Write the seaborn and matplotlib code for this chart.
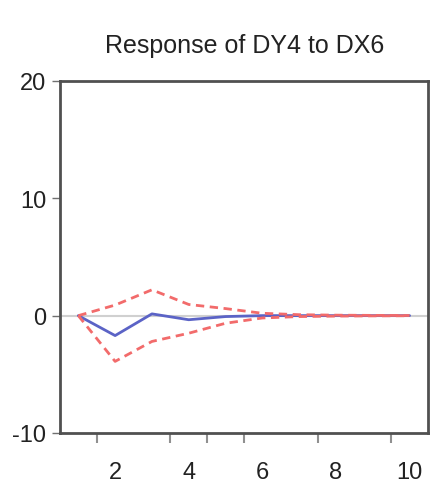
import matplotlib
matplotlib.use("Agg")
import matplotlib.pyplot as plt
from matplotlib import font_manager
import seaborn as sns
import pandas as pd

periods = [1, 2, 3, 4, 5, 6, 7, 8, 9, 10]
response = [0.0, -1.7, 0.15, -0.35, -0.08, 0.0, 0.0, 0.0, 0.0, 0.0]
upper_band = [0.0, 0.9, 2.2, 0.95, 0.6, 0.2, 0.08, 0.04, 0.02, 0.01]
lower_band = [0.0, -3.9, -2.2, -1.5, -0.65, -0.2, -0.08, -0.04, -0.02, -0.01]
y_ticks = [-10, 0, 10, 20]
x_labels = [2, 4, 6, 8, 10]
x_minor = [1.5, 3.5, 4.5, 5.5, 7.5, 9.5]
title = "Response of DY4 to DX6"

sns.set_theme(style="white")
installed = {f.name for f in font_manager.fontManager.ttflist}
family = "Liberation Sans Narrow" if "Liberation Sans Narrow" in installed else "Liberation Sans"
plt.rcParams["font.family"] = [family, "DejaVu Sans"]

df = pd.DataFrame({"period": periods, "response": response,
                   "upper": upper_band, "lower": lower_band})

fig = plt.figure(figsize=(4.31, 4.89), dpi=100)
ax = fig.add_axes([0.139, 0.1125, 0.854, 0.72])

ax.axhline(0, color="#d0d0d0", lw=1.5, zorder=1)
sns.lineplot(data=df, x="period", y="upper", ax=ax, color="#f26b6b",
             lw=2, dashes=False, zorder=3).lines[-1].set_dashes([3, 2])
sns.lineplot(data=df, x="period", y="lower", ax=ax, color="#f26b6b",
             lw=2, zorder=3).lines[-1].set_dashes([3, 2])
sns.lineplot(data=df, x="period", y="response", ax=ax, color="#5b63c6",
             lw=2, zorder=2)

ax.set_xlim(0.5, 10.5)
ax.set_ylim(-10, 20)
ax.set_yticks(y_ticks)
ax.set_yticklabels([str(v) for v in y_ticks])
ax.set_xticks(x_labels)
ax.set_xticklabels([str(v) for v in x_labels])
ax.set_xticks(x_minor, minor=True)
ax.set_xlabel("")
ax.set_ylabel("")

for s in ax.spines.values():
    s.set_color("#505050")
    s.set_linewidth(2)

ax.tick_params(axis="y", which="major", length=6, width=1, color="#707070",
               direction="out", labelsize=17, pad=4, left=True, labelcolor="#222222")
ax.tick_params(axis="x", which="major", length=0, labelsize=17, pad=20,
               labelcolor="#222222")
ax.tick_params(axis="x", which="minor", length=7, width=1.5, color="#909090",
               direction="out", bottom=True)

fig.text(0.567, 0.905, title, ha="center", va="center", fontsize=18,
         color="#222222")

fig.savefig("out.png", dpi=100)
